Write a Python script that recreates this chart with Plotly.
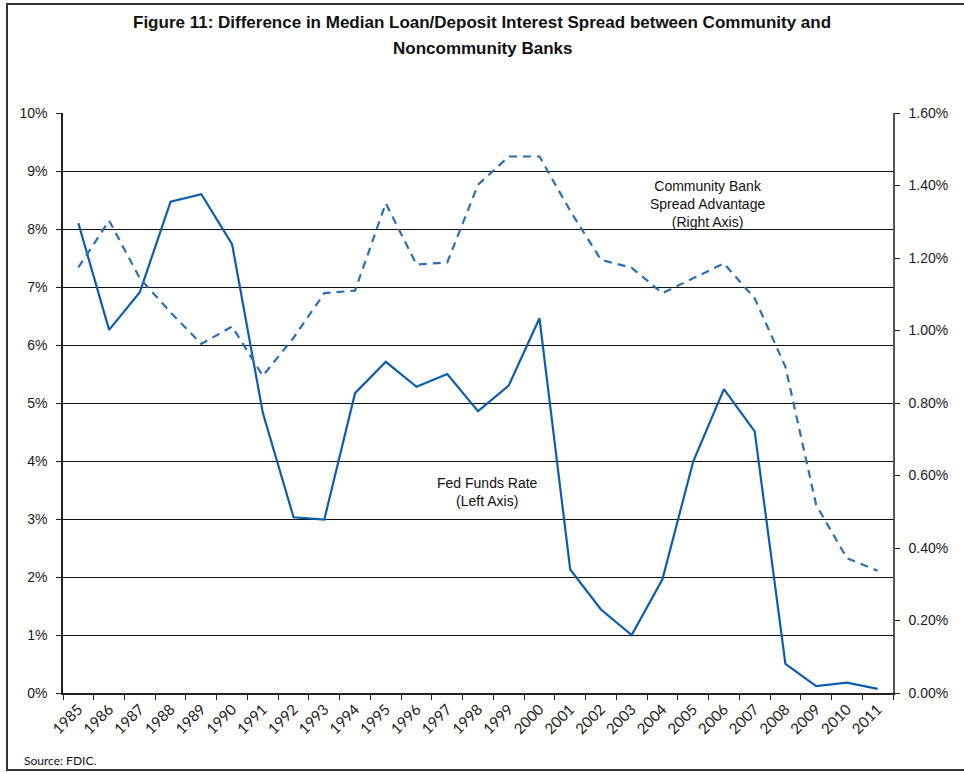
import plotly.graph_objects as go

years = [str(y) for y in range(1985, 2012)]
fed_funds = [8.10, 6.26, 6.91, 8.47, 8.60, 7.74, 4.83, 3.03, 2.99, 5.17, 5.71, 5.28, 5.50,
             4.86, 5.30, 6.46, 2.13, 1.44, 1.00, 1.96, 3.99, 5.24, 4.51, 0.50, 0.12, 0.18, 0.07]
spread_adv = [1.174, 1.303, 1.144, 1.05, 0.963, 1.011, 0.875, 0.98, 1.103, 1.11, 1.351, 1.182, 1.188,
              1.402, 1.480, 1.480, 1.33, 1.195, 1.173, 1.103, 1.144, 1.185, 1.089, 0.90, 0.519, 0.372, 0.337]
left_ticks = list(range(0, 11))
left_labels = [f"{v}%" for v in left_ticks]
right_ticks = [0.0, 0.2, 0.4, 0.6, 0.8, 1.0, 1.2, 1.4, 1.6]
right_labels = [f"{v:.2f}%" for v in right_ticks]

W, H = 964, 772
L, R, T, B = 63, 893, 113, 693

def px(x):
    return (x - L) / (R - L)

def py(y):
    return (B - y) / (B - T)

fig = go.Figure()
fig.add_trace(go.Scatter(x=years, y=fed_funds, mode="lines", yaxis="y",
                         line=dict(color="#0B5EAE", width=2.2), showlegend=False))
fig.add_trace(go.Scatter(x=years, y=spread_adv, mode="lines", yaxis="y2",
                         line=dict(color="#2A6FB8", width=2.2, dash="8px,6px"), showlegend=False))

axis_font = dict(family="Liberation Sans, Arial, sans-serif", size=14, color="#1a1a1a")

fig.update_layout(
    width=W, height=H,
    margin=dict(l=L, r=W - R, t=T, b=H - B),
    paper_bgcolor="white", plot_bgcolor="white",
    xaxis=dict(type="category", tickvals=years, ticktext=years, tickangle=-45,
               showgrid=False, showline=True, linecolor="#222", linewidth=1.5,
               ticks="outside", ticklen=5, tickcolor="#222", tickson="boundaries",
               tickfont=dict(family="Lato, Open Sans, sans-serif", size=15, color="#1a1a1a"),
               range=[-0.5, len(years) - 0.5], zeroline=False),
    yaxis=dict(range=[0, 10], tickvals=left_ticks, ticktext=left_labels,
               showgrid=True, gridcolor="#111", gridwidth=1.3,
               showline=True, linecolor="#222", linewidth=1.5,
               ticks="outside", ticklen=5, tickcolor="#222",
               tickfont=axis_font, zeroline=False, ticklabelstandoff=6),
    yaxis2=dict(range=[0, 1.6], overlaying="y", side="right", tickvals=right_ticks,
                ticktext=right_labels, showgrid=False,
                showline=True, linecolor="#555", linewidth=1.5,
                ticks="outside", ticklen=5, tickcolor="#222",
                tickfont=axis_font, zeroline=False, ticklabelstandoff=6),
    font=dict(family="Liberation Sans, Arial, sans-serif"),
)

title_font = dict(family="Liberation Sans, Arial", size=17, color="#111")
fig.add_annotation(x=px(482), y=py(22), xref="paper", yref="paper", showarrow=False,
                   text="<b>Figure 11: Difference in Median Loan/Deposit Interest Spread between Community and</b>",
                   font=title_font, xanchor="center", yanchor="middle")
fig.add_annotation(x=px(482), y=py(48), xref="paper", yref="paper", showarrow=False,
                   text="<b>Noncommunity Banks</b>",
                   font=title_font, xanchor="center", yanchor="middle")

fig.add_annotation(x=px(707), y=py(204), xref="paper", yref="paper", showarrow=False,
                   text="Community Bank<br>Spread Advantage<br>(Right Axis)",
                   font=dict(family="Liberation Sans, Arial", size=14, color="#111"),
                   xanchor="center", yanchor="middle")
fig.add_annotation(x=px(487), y=py(492), xref="paper", yref="paper", showarrow=False,
                   text="Fed Funds Rate<br>(Left Axis)",
                   font=dict(family="Liberation Sans, Arial", size=14, color="#111"),
                   xanchor="center", yanchor="middle")
fig.add_annotation(x=px(22), y=py(760), xref="paper", yref="paper", showarrow=False,
                   text="Source: FDIC.",
                   font=dict(family="Lato, Open Sans, sans-serif", size=12, color="#111"),
                   xanchor="left", yanchor="middle")

fig.add_shape(type="rect", xref="paper", yref="paper",
              x0=px(7), x1=px(968), y0=py(770), y1=py(4),
              line=dict(color="#333", width=2), fillcolor="rgba(0,0,0,0)", layer="below")

fig.write_html("out.html", config={"displayModeBar": False},
               post_script="document.body.style.margin='0';document.body.style.overflow='hidden';")
